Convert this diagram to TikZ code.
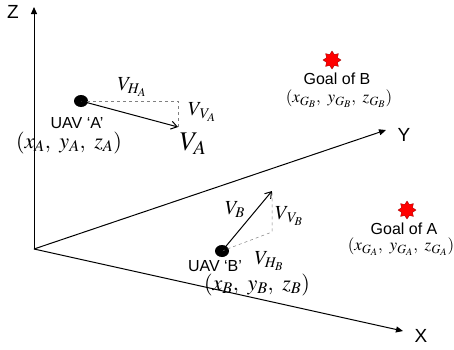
\documentclass[tikz,border=0pt]{standalone}
\usepackage{mathptmx}
\usepackage{fontspec}
\setmainfont{Liberation Sans}
\usetikzlibrary{shapes.geometric,arrows.meta}
\tikzset{
  axis/.style={line width=1pt,-{Triangle[length=7pt,width=6pt]}},
  vel/.style={line width=1pt,-{Straight Barb[length=6pt,width=8pt]}},
  comp/.style={gray,dashed,line width=0.5pt},
  uav/.style={ellipse,fill=black,minimum width=14pt,minimum height=12pt,inner sep=0pt},
  goal/.style={star,star points=8,star point ratio=1.5,fill=red,draw=red!60!black,line width=0.3pt,minimum size=18pt,inner sep=0pt},
  lab/.style={font=\fontsize{16}{17}\selectfont,inner sep=0pt},
  axlab/.style={font=\fontsize{19}{20}\selectfont,inner sep=0pt},
  mlab/.style={inner sep=0pt,font=\fontsize{20}{21}\selectfont},
  clab/.style={inner sep=0pt,font=\fontsize{22}{23}\selectfont},
  glab/.style={inner sep=0pt,font=\fontsize{17}{18}\selectfont}
}
\begin{document}
\begin{tikzpicture}[x=1pt,y=-1pt]
\useasboundingbox (0,0) rectangle (454,349);
% axes
\coordinate (O) at (34,249);
\coordinate (Zt) at (34,7);
\coordinate (Yt) at (386,130);
\coordinate (Xt) at (403,331);
\draw[axis] (O) -- (Zt);
\draw[axis] (O) -- (Yt);
\draw[axis] (O) -- (Xt);
\node[axlab] (zl) at (13,12) {Z};
\node[axlab] (yl) at (404,135) {Y};
\node[axlab] (xl) at (421,336) {X};
% UAV A
\node[uav] (A) at (81,101) {};
\coordinate (Atip) at (178,127);
\coordinate (Acorner) at (178,101);
\draw[comp] (A.center) -- (Acorner) -- (Atip);
\draw[vel] (A.center) -- (Atip);
\node[mlab] (vha) at (132,87) {$V_{H_A}$};
\node[mlab] (vva) at (202,112) {$V_{\,V_A}$};
\node[lab] (ua) at (77,123) {UAV ‘A’};
\node[clab] (ca) at (69,143) {$(x_A,\ y_A,\ z_A)$};
\node[inner sep=0pt,font=\fontsize{27}{28}\selectfont] (va) at (193,144) {$V_A$};
% UAV B
\node[uav] (B) at (222,251) {};
\coordinate (Btip) at (272,191);
\coordinate (Bcorner) at (272,232);
\draw[comp] (B.center) -- (Bcorner) -- (Btip);
\draw[vel] (B.center) -- (Btip);
\node[mlab] (vb) at (235,210) {$V_B$};
\node[mlab] (vvb) at (289,216) {$V_{\,V_B}$};
\node[mlab] (vhb) at (269,261) {$V_{H_B}$};
\node[lab] (ub) at (215,266) {UAV ‘B’};
\node[clab] (cb) at (257,285) {$(x_B,\ y_B,\ z_B)$};
% goals
\node[goal] (gb) at (332,60) {};
\node[lab] (gbl) at (337,79) {Goal of B};
\node[glab] (gbc) at (339,99) {$(x_{G_B},\ y_{G_B},\ z_{G_B})$};
\node[goal] (ga) at (407,210) {};
\node[lab] (gal) at (404,229) {Goal of A};
\node[glab] (gac) at (401,247) {$(x_{G_A},\ y_{G_A},\ z_{G_A})$};
\end{tikzpicture}
\end{document}
